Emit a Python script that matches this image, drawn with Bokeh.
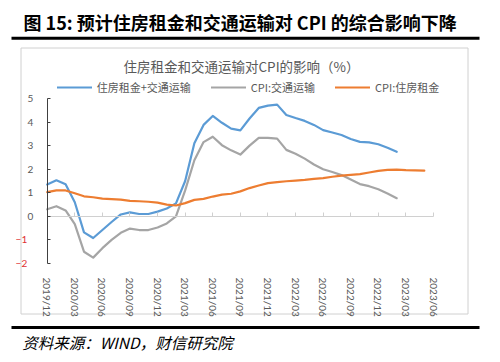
import math
from bokeh.plotting import figure
from bokeh.models import (Range1d, FixedTicker, LinearAxis, Label, Legend, LegendItem,
                          BoxAnnotation)
from bokeh.embed import file_html
from bokeh.resources import INLINE

# ---------------- data ----------------
tick_labels = ["2019/12", "2020/03", "2020/06", "2020/09", "2020/12", "2021/03", "2021/06",
               "2021/09", "2021/12", "2022/03", "2022/06", "2022/09", "2022/12", "2023/03", "2023/06"]

# monthly values starting 2019/12
combined = [1.35, 1.53, 1.36, 0.6, -0.68, -0.92, -0.58, -0.24, 0.08, 0.17, 0.1, 0.1, 0.2, 0.33,
            0.55, 1.5, 3.1, 3.88, 4.26, 3.97, 3.72, 3.65, 4.15, 4.6, 4.7, 4.74, 4.3, 4.17, 4.05,
            3.88, 3.66, 3.56, 3.45, 3.28, 3.16, 3.14, 3.06, 2.91, 2.74]
transport = [0.3, 0.43, 0.25, -0.33, -1.5, -1.75, -1.35, -1.0, -0.7, -0.52, -0.58, -0.58, -0.47,
             -0.3, 0.0, 1.1, 2.38, 3.15, 3.38, 3.02, 2.8, 2.62, 3.0, 3.33, 3.33, 3.3, 2.82, 2.66,
             2.45, 2.2, 2.0, 1.88, 1.75, 1.56, 1.37, 1.28, 1.15, 0.97, 0.77]
housing = [1.03, 1.1, 1.1, 0.98, 0.85, 0.81, 0.75, 0.73, 0.71, 0.66, 0.64, 0.62, 0.58, 0.5, 0.46,
           0.56, 0.7, 0.74, 0.84, 0.92, 0.96, 1.06, 1.2, 1.31, 1.41, 1.45, 1.49, 1.52, 1.55, 1.59,
           1.62, 1.68, 1.73, 1.76, 1.79, 1.86, 1.93, 1.97, 1.98, 1.96, 1.95, 1.94]
series_names = ["住房租金+交通运输", "CPI:交通运输", "CPI:住房租金"]
y_ticks = [-2, -1, 0, 1, 2, 3, 4, 5]

# ---------------- layout (canvas px) ----------------
CJK = "Noto Sans CJK SC"
NUM = "Lato"
GREY_TXT = "#595959"
W, H = 500, 362
PL, PR, PT, PB = 46.7, 433.0, 98.0, 263.0   # plot area edges

tick_step = 3
x_ticks = [i * tick_step for i in range(len(tick_labels))]
x0, x1 = x_ticks[0], x_ticks[-1]
y0, y1 = y_ticks[0], y_ticks[-1]
ppx = (PR - PL) / (x1 - x0)
ppy = (PB - PT) / (y1 - y0)
x_range = Range1d(x0 - PL / ppx, x1 + (W - PR) / ppx)
y_range = Range1d(y0 - (H - PB) / ppy, y1 + PT / ppy)

p = figure(width=W, height=H, output_backend="svg", toolbar_location=None,
           x_range=x_range, y_range=y_range, min_border=0,
           x_axis_location=None, y_axis_location=None)
p.outline_line_color = None
p.background_fill_color = "white"
p.border_fill_color = "white"
p.xgrid.visible = False
p.ygrid.visible = False

# bottom axis: labels only, at y = min
xa = LinearAxis(ticker=FixedTicker(ticks=x_ticks), fixed_location=y0,
                major_label_overrides={t: lab for t, lab in zip(x_ticks, tick_labels)})
xa.axis_line_color = None
xa.major_tick_line_color = None
xa.minor_tick_line_color = None
xa.major_label_orientation = -math.pi / 2
xa.major_label_standoff = 8
xa.major_label_text_font = NUM
xa.major_label_text_font_size = "10px"
xa.major_label_text_color = GREY_TXT
p.add_layout(xa, "below")

# zero line axis with upward ticks
za = LinearAxis(ticker=FixedTicker(ticks=x_ticks), fixed_location=0, bounds=(x0, x1))
za.axis_line_color = "#d0d0d0"
za.major_tick_line_color = "#d0d0d0"
za.major_tick_out = 4
za.major_tick_in = 0
za.minor_tick_line_color = None
za.major_label_text_font_size = "0px"
za.major_label_text_alpha = 0
p.add_layout(za, "above")

# y axis
ya = LinearAxis(ticker=FixedTicker(ticks=y_ticks), fixed_location=x0, bounds=(y0, y1),
                major_label_overrides={t: ("" if t < 0 else str(t)) for t in y_ticks})
ya.axis_line_color = "#404040"
ya.major_tick_line_color = "#404040"
ya.major_tick_in = 3
ya.major_tick_out = 0
ya.minor_tick_line_color = None
ya.major_label_standoff = 14
ya.major_label_text_font = NUM
ya.major_label_text_font_size = "10px"
ya.major_label_text_color = GREY_TXT
p.add_layout(ya, "left")

neg = [t for t in y_ticks if t < 0]
yn = LinearAxis(ticker=FixedTicker(ticks=neg), fixed_location=x0)
yn.axis_line_color = None
yn.major_tick_line_color = None
yn.minor_tick_line_color = None
yn.major_label_standoff = 14
yn.major_label_text_font = NUM
yn.major_label_text_font_size = "10px"
yn.major_label_text_color = "#e03030"
p.add_layout(yn, "left")

# light grey chart-area frame (pixel layout converted to data space)
def dx(px):
    return x_range.start + px / ppx

def dy(py):
    return y_range.end - py / ppy

BX0, BX1, BY0, BY1 = 20.5, 467.5, 47.5, 313.5
p.quad(left=[dx(BX0)], right=[dx(BX1)], top=[dy(BY0)], bottom=[dy(BY1)],
       fill_color=None, line_color="#d0d0d0", line_width=1)

colors = ["#5B9BD5", "#A5A5A5", "#ED7D31"]
rs = []
for vals, c in zip([combined, transport, housing], colors):
    r = p.line(list(range(len(vals))), vals, line_color=c, line_width=2.2,
               line_join="round", line_cap="round")
    rs.append(r)

legend = Legend(items=[LegendItem(label=n, renderers=[r]) for n, r in zip(series_names, rs)],
                orientation="horizontal", location=(56.7, H - 95.3))
legend.glyph_width = 35
legend.glyph_height = 14
legend.label_height = 14
legend.label_standoff = 5
legend.spacing = 20
legend.padding = 0
legend.margin = 0
legend.border_line_color = None
legend.background_fill_alpha = 0
legend.label_text_font = CJK
legend.label_text_font_size = "11px"
legend.label_text_color = GREY_TXT
p.add_layout(legend, "center")

# ---------------- decorations ----------------
def sy(y):
    return H - y   # labels: screen y measured from the bottom

def bar(l, r, t, b, color):
    # box annotation screen units: y measured from the top
    p.add_layout(BoxAnnotation(left=l, right=r, top=t, bottom=b,
                               left_units="screen", right_units="screen",
                               top_units="screen", bottom_units="screen",
                               fill_color=color, fill_alpha=1, line_color=None, level="overlay"))

p.add_layout(Label(x=241, y=sy(65), x_units="screen", y_units="screen",
                   text="住房租金和交通运输对CPI的影响（%）", text_font=CJK, text_font_size="13.5px",
                   text_color=GREY_TXT, text_align="center", text_baseline="middle"))
p.add_layout(Label(x=23, y=sy(21.7), x_units="screen", y_units="screen",
                   text="图 15: 预计住房租金和交通运输对 CPI 的综合影响下降", text_font=CJK,
                   text_font_size="18px", text_font_style="bold", text_color="black",
                   text_align="left", text_baseline="middle"))
p.add_layout(Label(x=21.7, y=sy(341.7), x_units="screen", y_units="screen",
                   text="资料来源：WIND，财信研究院", text_font=CJK, text_font_size="15.5px",
                   text_font_style="italic", text_color="black",
                   text_align="left", text_baseline="middle"))

# black rules
for top_y in (33.5, 322.7):
    bar(11, 479, top_y, top_y + 3, "black")

open("out.html", "w").write(file_html(p, INLINE))
